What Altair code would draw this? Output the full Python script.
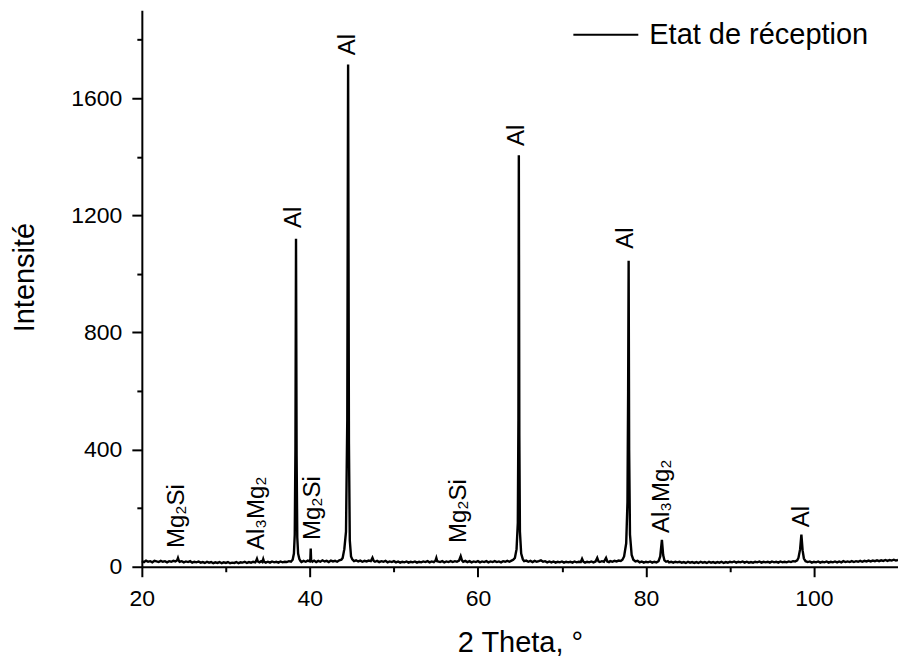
import altair as alt
import pandas as pd

FONT = "Liberation Sans, Arial, Helvetica, sans-serif"

two_theta = [
    20.0, 20.25, 20.5, 20.75, 21.0, 21.25, 21.5, 21.75, 22.0, 22.25,
    22.5, 22.75, 23.0, 23.25, 23.5, 23.75, 24.0, 24.2, 24.3, 24.4,
    24.5, 24.75, 25.0, 25.25, 25.5, 25.75, 26.0, 26.25, 26.5, 26.75,
    27.0, 27.25, 27.5, 27.75, 28.0, 28.25, 28.5, 28.75, 29.0, 29.25,
    29.5, 29.75, 30.0, 30.25, 30.5, 30.75, 31.0, 31.25, 31.5, 31.75,
    32.0, 32.25, 32.5, 32.75, 33.0, 33.25, 33.5, 33.6, 33.7, 33.8,
    34.0, 34.2, 34.35, 34.45, 34.55, 34.75, 35.0, 35.25, 35.5, 35.75,
    36.0, 36.25, 36.5, 36.75, 37.0, 37.25, 37.5, 37.75, 37.95, 38.1,
    38.2, 38.28, 38.35, 38.42, 38.5, 38.6, 38.75, 38.9, 39.0, 39.25,
    39.5, 39.75, 40.0, 40.05, 40.1, 40.15, 40.3, 40.5, 40.75, 41.0,
    41.25, 41.5, 41.75, 42.0, 42.25, 42.5, 42.75, 43.0, 43.25, 43.5,
    43.75, 43.9, 44.1, 44.3, 44.45, 44.55, 44.65, 44.75, 44.9, 45.05,
    45.25, 45.5, 45.75, 46.0, 46.25, 46.5, 46.75, 47.0, 47.25, 47.45,
    47.6, 47.75, 48.0, 48.25, 48.5, 48.75, 49.0, 49.25, 49.5, 49.75,
    50.0, 50.25, 50.5, 50.75, 51.0, 51.25, 51.5, 51.75, 52.0, 52.25,
    52.5, 52.75, 53.0, 53.25, 53.5, 53.75, 54.0, 54.25, 54.5, 54.75,
    54.95, 55.05, 55.15, 55.5, 55.75, 56.0, 56.25, 56.5, 56.75, 57.0,
    57.25, 57.5, 57.75, 57.95, 58.1, 58.25, 58.5, 58.75, 59.0, 59.25,
    59.5, 59.75, 60.0, 60.25, 60.5, 60.75, 61.0, 61.25, 61.5, 61.75,
    62.0, 62.25, 62.5, 62.75, 63.0, 63.25, 63.5, 63.75, 64.0, 64.2,
    64.4, 64.6, 64.75, 64.82, 64.87, 64.93, 65.0, 65.15, 65.35, 65.5,
    65.75, 66.0, 66.25, 66.5, 66.75, 67.0, 67.25, 67.5, 67.75, 68.0,
    68.25, 68.5, 68.75, 69.0, 69.25, 69.5, 69.75, 70.0, 70.25, 70.5,
    70.75, 71.0, 71.25, 71.5, 71.75, 72.0, 72.25, 72.4, 72.55, 72.75,
    73.0, 73.25, 73.5, 73.75, 74.0, 74.2, 74.35, 74.5, 74.75, 75.0,
    75.25, 75.4, 75.6, 75.75, 76.0, 76.25, 76.5, 76.75, 77.0, 77.2,
    77.4, 77.65, 77.8, 77.88, 77.94, 78.0, 78.1, 78.3, 78.5, 78.75,
    79.0, 79.25, 79.5, 79.75, 80.0, 80.25, 80.5, 80.75, 81.0, 81.25,
    81.5, 81.7, 81.9, 82.05, 82.2, 82.4, 82.6, 82.75, 83.0, 83.25,
    83.5, 83.75, 84.0, 84.25, 84.5, 84.75, 85.0, 85.25, 85.5, 85.75,
    86.0, 86.25, 86.5, 86.75, 87.0, 87.25, 87.5, 87.75, 88.0, 88.25,
    88.5, 88.75, 89.0, 89.25, 89.5, 89.75, 90.0, 90.25, 90.5, 90.75,
    91.0, 91.25, 91.5, 91.75, 92.0, 92.25, 92.5, 92.75, 93.0, 93.25,
    93.5, 93.75, 94.0, 94.25, 94.5, 94.75, 95.0, 95.25, 95.5, 95.75,
    96.0, 96.25, 96.5, 96.75, 97.0, 97.25, 97.5, 97.75, 98.0, 98.15,
    98.35, 98.5, 98.65, 98.8, 99.0, 99.25, 99.5, 99.75, 100.0, 100.25,
    100.5, 100.75, 101.0, 101.25, 101.5, 101.75, 102.0, 102.25, 102.5, 102.75,
    103.0, 103.25, 103.5, 103.75, 104.0, 104.25, 104.5, 104.75, 105.0, 105.25,
    105.5, 105.75, 106.0, 106.25, 106.5, 106.75, 107.0, 107.25, 107.5, 107.75,
    108.0, 108.25, 108.5, 108.75, 109.0, 109.25, 109.5, 109.75, 110.0,
]
intensity = [
    19, 16, 21, 17, 19, 15, 20, 18, 16, 20,
    17, 19, 15, 19, 17, 20, 18, 22, 30, 21,
    17, 19, 15, 18, 16, 19, 14, 17, 15, 18,
    14, 16, 13, 17, 14, 16, 12, 15, 13, 16,
    12, 15, 13, 16, 12, 14, 13, 16, 12, 15,
    14, 17, 13, 16, 14, 17, 15, 20, 27, 18,
    15, 19, 16, 26, 17, 14, 17, 14, 18, 15,
    17, 14, 18, 15, 17, 16, 19, 17, 24, 45,
    110, 400, 1120, 380, 100, 45, 26, 19, 16, 20,
    17, 21, 18, 24, 62, 22, 17, 21, 16, 20,
    17, 22, 18, 20, 16, 21, 18, 20, 17, 22,
    24, 30, 60, 120, 500, 1715, 420, 90, 35, 25,
    19, 22, 18, 21, 17, 20, 18, 21, 19, 31,
    20, 17, 20, 16, 19, 17, 20, 15, 18, 16,
    19, 15, 18, 14, 17, 15, 18, 14, 17, 15,
    18, 14, 17, 15, 18, 16, 19, 15, 18, 16,
    21, 30, 19, 16, 19, 15, 18, 16, 19, 16,
    19, 17, 21, 36, 22, 17, 20, 16, 19, 15,
    18, 16, 19, 15, 18, 16, 19, 15, 18, 16,
    19, 16, 18, 15, 19, 17, 20, 17, 21, 24,
    30, 60, 150, 500, 1405, 450, 120, 45, 25, 19,
    21, 17, 20, 16, 20, 17, 19, 22, 17, 19,
    15, 18, 15, 18, 14, 17, 15, 18, 14, 17,
    15, 17, 14, 18, 15, 17, 16, 27, 17, 14,
    17, 15, 18, 15, 18, 30, 18, 16, 19, 17,
    30, 18, 16, 19, 17, 20, 18, 21, 20, 24,
    35, 80, 220, 600, 1045, 400, 110, 40, 24, 18,
    20, 15, 18, 14, 17, 15, 18, 14, 17, 15,
    19, 35, 92, 40, 22, 17, 19, 15, 17, 14,
    17, 15, 17, 14, 16, 13, 17, 14, 16, 13,
    16, 13, 17, 14, 16, 13, 17, 14, 16, 13,
    16, 14, 17, 13, 16, 14, 17, 15, 18, 14,
    17, 15, 18, 14, 17, 14, 16, 14, 17, 15,
    18, 14, 17, 15, 17, 14, 18, 15, 17, 14,
    18, 15, 17, 15, 18, 16, 19, 18, 22, 30,
    60, 110, 55, 28, 19, 16, 18, 14, 17, 15,
    18, 14, 17, 15, 18, 14, 17, 15, 18, 15,
    18, 15, 19, 16, 18, 16, 19, 16, 19, 17,
    20, 17, 20, 18, 21, 18, 21, 19, 22, 19,
    22, 20, 23, 20, 23, 21, 24, 21, 23,
]
assert len(two_theta) == len(intensity)

series_name = "Etat de réception"

peak_labels = ["Mg₂Si", "Al₃Mg₂", "Al", "Mg₂Si", "Al", "Mg₂Si", "Al", "Al", "Al₃Mg₂", "Al"]
label_x = [24.15, 33.67, 38.1, 40.36, 44.5, 57.7, 64.6, 77.6, 81.95, 98.55]
label_y = [64, 57, 1157, 91, 1747, 81, 1437, 1086, 115, 135]

x_major = [20, 40, 60, 80, 100]
x_minor = [30, 50, 70, 90]
y_major = [0, 400, 800, 1200, 1600]
y_minor = [200, 600, 1000, 1400, 1800]

df = pd.DataFrame({"x": two_theta, "y": intensity, "series": series_name})
lab = pd.DataFrame({"x": label_x, "y": label_y, "t": peak_labels})

xs = alt.Scale(domain=[20, 110], nice=False, zero=False)
ys = alt.Scale(domain=[0, 1900], nice=False, zero=False)

axis_common = dict(
    domainColor="black", domainWidth=2, tickColor="black", tickWidth=2,
    labelColor="black", labelFont=FONT, labelFontSize=23, grid=False, labelFlush=False,
    titleColor="black", titleFont=FONT, titleFontSize=29, titleFontWeight="normal",
)

line = alt.Chart(df).mark_line(strokeWidth=2.4).encode(
    x=alt.X("x:Q", scale=xs, axis=alt.Axis(
        values=x_major, tickSize=10, labelPadding=11, title="2 Theta, °", orient="bottom",
        format="d", titleY=85, titleBaseline="alphabetic", **axis_common)),
    y=alt.Y("y:Q", scale=ys, axis=alt.Axis(
        values=y_major, tickSize=10, labelPadding=10, title="Intensité", orient="left",
        format="d", titleX=-108, titleY=267, titleAngle=270, titleBaseline="alphabetic",
        titleAlign="center", **axis_common)),
    color=alt.Color("series:N", scale=alt.Scale(range=["black"]), legend=alt.Legend(
        title=None, orient="none", legendX=431, legendY=-9, padding=0,
        symbolType="stroke", symbolSize=4225, symbolStrokeWidth=2,
        symbolStrokeColor="black", labelFont=FONT, labelFontSize=29, labelColor="black",
        labelOffset=10, labelLimit=0)),
    order="x:Q",
)

minor_common = dict(
    domain=False, labels=False, tickColor="black", tickWidth=2, tickSize=5, grid=False, title=None,
)
minor = alt.Chart(df).mark_point(opacity=0).encode(
    x=alt.X("x:Q", scale=xs, axis=alt.Axis(values=x_minor, orient="bottom", **minor_common)),
    y=alt.Y("y:Q", scale=ys, axis=alt.Axis(values=y_minor, orient="left", **minor_common)),
)

labels = alt.Chart(lab).mark_text(
    angle=270, align="left", baseline="middle", fontSize=24, font=FONT, color="black"
).encode(
    x=alt.X("x:Q", scale=xs, axis=None),
    y=alt.Y("y:Q", scale=ys, axis=None),
    text="t:N",
)

chart = alt.layer(line, minor, labels).resolve_axis(
    x="independent", y="independent"
).properties(
    width=757, height=557,
    background="white",
    autosize=alt.AutoSizeParams(type="none"),
    padding={"left": 142, "top": 10, "right": 0, "bottom": 92},
).configure_view(stroke=None)

chart.save("out.html", embed_options={"renderer": "svg", "actions": False})
